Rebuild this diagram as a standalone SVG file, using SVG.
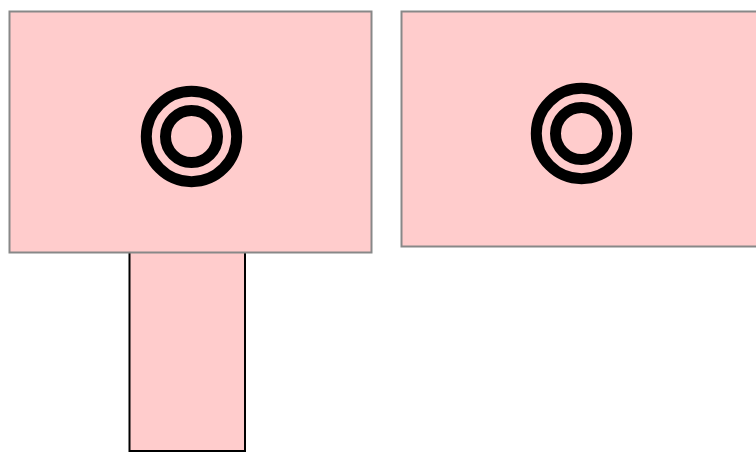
<svg xmlns="http://www.w3.org/2000/svg" width="756" height="452" viewBox="0 0 756 452">
<style>
.big{fill:#ffcccc;stroke:#888888;stroke-width:2}
.small{fill:#ffcccc;stroke:#000000;stroke-width:2}
.ring{fill:none;stroke:#000000;stroke-width:11}
</style>
<defs>
<g id="target">
<circle class="ring" cx="0" cy="0" r="45.2"/>
<circle class="ring" cx="0" cy="0" r="26"/>
</g>
</defs>
<rect x="0" y="0" width="756" height="452" fill="#ffffff"/>
<g id="stem">
<rect class="small" x="129.5" y="250" width="115.5" height="201"/>
</g>
<g id="left-box">
<rect class="big" x="9.5" y="11.5" width="362" height="241"/>
<use href="#target" x="191.5" y="136.5"/>
</g>
<g id="right-box">
<rect class="big" x="401.5" y="11.5" width="370" height="235"/>
<use href="#target" x="581.5" y="133.5"/>
</g>
<g id="connectors"></g>
</svg>
